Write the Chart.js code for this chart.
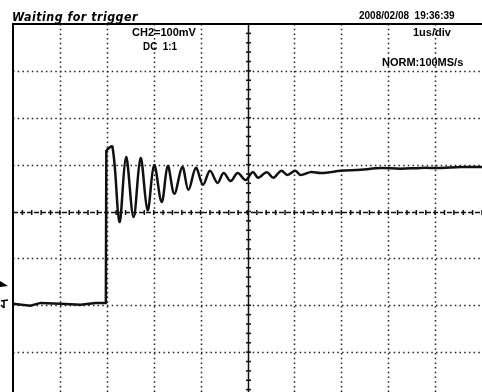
<!DOCTYPE html>
<html>
<head>
<meta charset="utf-8">
<script src="https://cdn.jsdelivr.net/npm/chart.js@4"></script>
<style>
  html, body { margin: 0; padding: 0; background: #fff; overflow: hidden; }
  #wrap { width: 482px; height: 392px; overflow: hidden; }
</style>
</head>
<body>
<div id="wrap"><canvas id="scope" width="482" height="400"></canvas></div>
<script>
// time in us (1us/div), voltage in mV (100mV/div)
let tempoBase = [-5.0, -4.63, -4.41, -3.99, -3.56, -3.24, -3.02, -3.01];
let tensaoBase = [-197, -201, -195, -197, -199, -195, -195, 131];

let tempoOsc = [-3.01, -2.88, -2.73, -2.59, -2.43, -2.28, -2.13,
    -1.99, -1.83, -1.70, -1.56, -1.39, -1.26, -1.10, -0.95, -0.80, -0.64, -0.51, -0.36, -0.21, -0.04,
    0.11, 0.23, 0.41, 0.55, 0.72, 0.85, 1.02, 1.13, 1.34, 1.56, 1.77, 1.98, 2.41, 2.84, 3.26, 3.69, 4.12, 4.54, 5.0];
let tensaoOsc = [131, 138, -22, 116, -12, 114, 3,
    99, 20, 97, 38, 95, 46, 93, 57, 87, 61, 82, 65, 82, 67,
    84, 72, 84, 72, 87, 78, 87, 78, 84, 82, 84, 87, 89, 93, 91, 93, 93, 95, 95];

let divX = [-4, -3, -2, -1, 1, 2, 3, 4];
let divY = [-300, -200, -100, 100, 200, 300];

let status = 'Waiting for trigger';
let dataHora = '2008/02/08  19:36:39';
let canal = 'CH2=100mV';
let acopl = 'DC  1:1';
let base = '1us/div';
let modo = 'NORM:100MS/s';

let pontosBase = tempoBase.map((t, i) => ({ x: t, y: tensaoBase[i] }));
let pontosOsc = tempoOsc.map((t, i) => ({ x: t, y: tensaoOsc[i] }));

let gradePlugin = {
    id: 'grade',
    beforeDatasetsDraw(chart) {
        let ctx = chart.ctx;
        let a = chart.chartArea;
        let sx = chart.scales.x;
        let sy = chart.scales.y;
        ctx.save();

        // dotted grid
        ctx.strokeStyle = '#222';
        ctx.lineWidth = 1.5;
        ctx.setLineDash([1.5, 3.2]);
        divX.forEach(v => {
            let px = Math.round(sx.getPixelForValue(v)) + 0.5;
            ctx.beginPath();
            ctx.moveTo(px, a.top);
            ctx.lineTo(px, a.bottom);
            ctx.stroke();
        });
        divY.forEach(v => {
            let py = Math.round(sy.getPixelForValue(v)) + 0.5;
            ctx.beginPath();
            ctx.moveTo(a.left, py);
            ctx.lineTo(a.right, py);
            ctx.stroke();
        });

        // center axes
        let cx = Math.round(sx.getPixelForValue(0)) + 0.5;
        let cy = Math.round(sy.getPixelForValue(0)) + 0.5;
        ctx.strokeStyle = '#111';
        ctx.lineWidth = 1.5;
        ctx.setLineDash([]);
        ctx.beginPath();
        ctx.moveTo(cx, a.top);
        ctx.lineTo(cx, a.bottom);
        ctx.stroke();
        ctx.setLineDash([5, 2]);
        ctx.beginPath();
        ctx.moveTo(a.left, cy);
        ctx.lineTo(a.right, cy);
        ctx.stroke();
        ctx.setLineDash([]);
        for (let v = -400; v <= 400; v += 20) {
            let py = sy.getPixelForValue(v);
            ctx.beginPath();
            ctx.moveTo(cx - 2.5, py);
            ctx.lineTo(cx + 2.5, py);
            ctx.stroke();
        }
        for (let t = -5; t <= 5.001; t += 0.2) {
            let px = sx.getPixelForValue(t);
            ctx.beginPath();
            ctx.moveTo(px, cy - 2.5);
            ctx.lineTo(px, cy + 2.5);
            ctx.stroke();
        }

        // frame (left and top)
        ctx.strokeStyle = '#000';
        ctx.lineWidth = 2;
        ctx.beginPath();
        ctx.moveTo(a.left, a.bottom);
        ctx.lineTo(a.left, a.top);
        ctx.lineTo(a.right, a.top);
        ctx.stroke();

        // channel markers at left edge
        ctx.fillStyle = '#000';
        ctx.beginPath();
        ctx.moveTo(0, 281);
        ctx.lineTo(8, 286);
        ctx.lineTo(0, 287);
        ctx.closePath();
        ctx.fill();
        ctx.lineWidth = 1.5;
        ctx.beginPath();
        ctx.moveTo(1, 301);
        ctx.lineTo(8, 300);
        ctx.moveTo(4, 300);
        ctx.lineTo(4, 308);
        ctx.moveTo(1, 305);
        ctx.lineTo(4, 308);
        ctx.stroke();
        ctx.restore();
    },
    afterDraw(chart) {
        let ctx = chart.ctx;
        ctx.save();
        ctx.fillStyle = '#000';
        ctx.textBaseline = 'alphabetic';
        ctx.font = 'italic bold 12px "DejaVu Sans"';
        ctx.letterSpacing = '0.5px';
        ctx.fillText(status, 12, 21, 126);
        ctx.letterSpacing = '0px';
        ctx.font = 'bold 10px "Liberation Sans"';
        ctx.fillText(dataHora, 359, 19, 124);
        ctx.font = 'bold 11px "Liberation Sans"';
        ctx.fillText(canal, 132, 36, 68);
        ctx.fillText(acopl, 143, 50, 34);
        ctx.fillText(base, 413, 36, 45);
        ctx.fillText(modo, 382, 66, 92);
        ctx.restore();
    }
};

let contextScope = document.querySelector('#scope').getContext('2d');

let config = {
    type: 'line',
    data: {
        datasets: [{
            data: pontosBase,
            borderColor: '#111',
            borderWidth: 2.5,
            pointRadius: 0,
            tension: 0,
            fill: false
        }, {
            data: pontosOsc,
            borderColor: '#111',
            borderWidth: 2.5,
            pointRadius: 0,
            tension: 0.35,
            fill: false
        }]
    },
    options: {
        responsive: false,
        animation: false,
        events: [],
        layout: {
            padding: { left: 13, top: 24, right: 0, bottom: 1 }
        },
        plugins: {
            legend: { display: false },
            tooltip: { enabled: false }
        },
        scales: {
            x: { type: 'linear', min: -5, max: 5, display: false },
            y: { min: -400, max: 400, display: false }
        }
    },
    plugins: [gradePlugin]
};

let chartScope = new Chart(contextScope, config);
</script>
</body>
</html>
